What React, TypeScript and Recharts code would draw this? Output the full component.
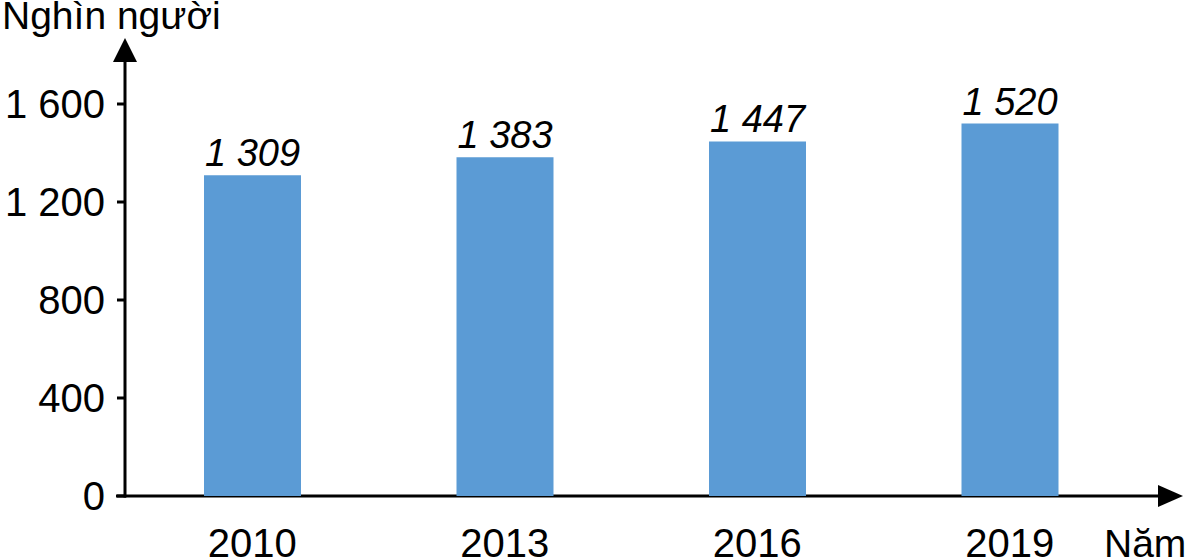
import React from 'react';
import { BarChart, Bar, XAxis, YAxis, LabelList, Customized } from 'recharts';

const years = ['2010', '2013', '2016', '2019'];
const population = [1309, 1383, 1447, 1520];
const yTicks = [0, 400, 800, 1200, 1600];

const data = years.map((year, i) => ({ year, value: population[i] }));

const W = 1185;
const H = 559;
const AXIS_X = 125;
const AXIS_Y = 496;
const FONT = '"Liberation Sans", Arial, sans-serif';

const fmt = (n: number) => String(n).replace(/\B(?=(\d{3})+(?!\d))/g, ' ');

function Axes() {
  return (
    <g>
      {/* trục tung */}
      <line x1={AXIS_X} y1={AXIS_Y + 1.5} x2={AXIS_X} y2={60} stroke="#000" strokeWidth={3} />
      <polygon points={`${AXIS_X},38 ${AXIS_X - 12},62 ${AXIS_X + 12},62`} fill="#000" />
      {/* trục hoành */}
      <line x1={116} y1={AXIS_Y} x2={1160} y2={AXIS_Y} stroke="#000" strokeWidth={3} />
      <polygon points={`1183,${AXIS_Y} 1158,${AXIS_Y - 11} 1158,${AXIS_Y + 11}`} fill="#000" />
      <text x={2} y={29} fontSize={39} fill="#000" fontFamily={FONT}>Nghìn người</text>
      <text x={1104} y={557} fontSize={39} fill="#000" fontFamily={FONT}>Năm</text>
    </g>
  );
}

export default function App() {
  return (
    <div style={{ position: 'absolute', left: 0, top: 0, background: '#fff' }}>
      <BarChart
        width={W}
        height={H}
        data={data}
        margin={{ top: 104, right: 49, bottom: 0, left: 0 }}
        style={{ fontFamily: FONT }}
      >
        <XAxis
          dataKey="year"
          height={63}
          axisLine={false}
          tickLine={false}
          tickSize={0}
          tickMargin={33}
          tick={{ fontSize: 40, fill: '#000' }}
        />
        <YAxis
          width={126}
          domain={[0, 1600]}
          ticks={yTicks}
          interval={0}
          axisLine={false}
          tickLine={{ stroke: '#000', strokeWidth: 3 }}
          tickSize={9}
          tickMargin={12}
          tickFormatter={fmt}
          tick={{ fontSize: 40, fill: '#000' }}
        />
        <Bar dataKey="value" fill="#5B9BD5" barSize={97} isAnimationActive={false}>
          <LabelList
            dataKey="value"
            position="top"
            offset={9}
            formatter={(v: number) => fmt(v)}
            style={{ fontSize: 38, fontStyle: 'italic', fill: '#000' }}
          />
        </Bar>
        <Customized component={<Axes />} />
      </BarChart>
    </div>
  );
}
